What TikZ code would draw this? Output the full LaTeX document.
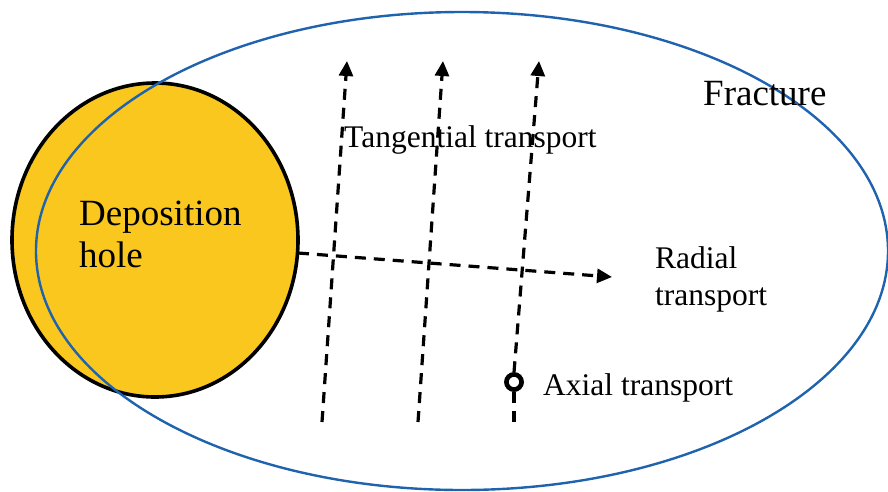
\documentclass[tikz,border=0pt]{standalone}
\usepackage{fontspec}
\setmainfont{Liberation Serif}
\usetikzlibrary{arrows.meta,shapes.geometric}
\definecolor{holeyellow}{HTML}{FAC71E}
\definecolor{fracblue}{HTML}{1F62AE}
\tikzset{
  flow/.style={line width=3.2pt, dash pattern=on 11pt off 8pt, -{Triangle[length=15pt,width=14pt]}},
  flowplain/.style={line width=3.2pt, dash pattern=on 11pt off 8pt},
  ring/.style={circle, draw=black, line width=4.5pt, fill=white, minimum size=15pt, inner sep=0pt},
  lbl/.style={anchor=base west, inner sep=0pt, font=\fontsize{31.5}{37}\selectfont},
  biglbl/.style={anchor=base west, inner sep=0pt, font=\fontsize{37}{42}\selectfont, align=left},
}
\begin{document}
\begin{tikzpicture}[x=1pt,y=-1pt]
\useasboundingbox (0,0) rectangle (888,491);
% deposition hole
\node[ellipse, draw=black, line width=3.6pt, fill=holeyellow, minimum width=286pt, minimum height=314pt, inner sep=0pt] (hole) at (155,240) {};
% fracture
\node[ellipse, draw=fracblue, line width=2.4pt, minimum width=852pt, minimum height=478pt, inner sep=0pt] (fracture) at (462,251) {};
% coordinates
\coordinate (r0) at (298,253);
\coordinate (r1) at (612,277);
\coordinate (a0) at (322,422);
\coordinate (a1) at (347,61);
\coordinate (b0) at (418,422);
\coordinate (b1) at (443,61);
\coordinate (c0) at (514,422);
\coordinate (c1) at (539,61);
% axial marker
\node[ring] (axial) at (514,382) {};
% arrows
\draw[flow] (a0) -- (a1);
\draw[flow] (b0) -- (b1);
\draw[flowplain] (c0) -- (axial.south);
\draw[flow] (axial.north) -- (c1);
\draw[flow] (r0) -- (r1);
\node[ring] at (axial) {};
% labels
\node[biglbl] (tfrac) at (703,105) {Fracture};
\node[biglbl] (thole) at (79,267) {Deposition\\hole};
\node[lbl] (ttan) at (344,147) {Tangential transport};
\node[lbl, align=left] (trad) at (655,305) {Radial\\transport};
\node[lbl] (tax) at (543,395) {Axial transport};
\end{tikzpicture}
\end{document}
